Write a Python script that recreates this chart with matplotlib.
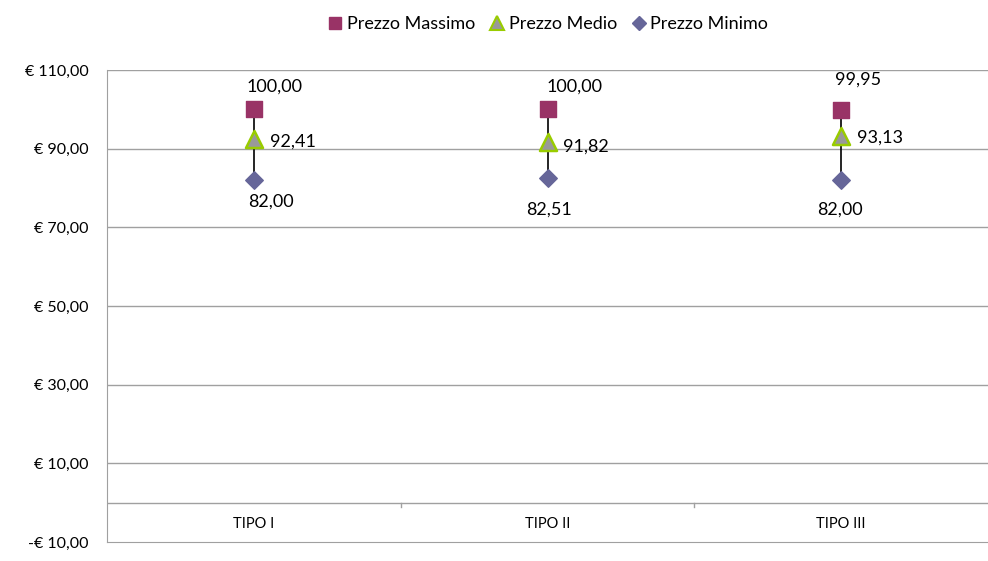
import matplotlib.pyplot as plt
from matplotlib.lines import Line2D

plt.rcParams['font.family'] = ['Lato', 'DejaVu Sans']

categorie = ['TIPO I', 'TIPO II', 'TIPO III']
prezzo_max = [100.00, 100.00, 99.95]
prezzo_medio = [92.41, 91.82, 93.13]
prezzo_min = [82.00, 82.51, 82.00]

# spostamenti etichette (pixel) rispetto al marker
off_max = [(21, 23), (27, 23), (17, 30)]
off_min = [(17, -21), (1, -31), (-1, -29)]
off_med = [(16, -2), (15, -5), (16, -1)]

def euro(v):
    s = f"{abs(v):,.2f}".replace(",", "X").replace(".", ",").replace("X", ".")
    return ("-€ " if v < 0 else "€ ") + s

def num(v):
    return f"{v:.2f}".replace(".", ",")

fig = plt.figure(figsize=(9.88, 5.61), dpi=100)
ax = fig.add_axes([0.1083, 0.0339, 0.8917, 0.8411])

x = list(range(len(categorie)))
col_max = '#993366'
col_med_edge = '#99CC00'
col_med = '#999999'
col_min = '#666699'

ax.set_xlim(-0.5, len(categorie) - 0.5)
ax.set_ylim(-10, 110)
yt = list(range(-10, 111, 20))
ax.set_yticks(yt)
ax.set_yticklabels([euro(v) for v in yt], fontsize=11.5)
for v in yt[1:]:
    ax.axhline(v, color='#a0a0a0', lw=1, zorder=0)
ax.axhline(0, color='#a0a0a0', lw=1, zorder=0)

for s in ['top', 'right']:
    ax.spines[s].set_visible(False)
for s in ['left', 'bottom']:
    ax.spines[s].set_color('#a0a0a0')
ax.tick_params(axis='y', length=0, pad=13)
ax.set_xticks([])

# tacche categorie sull'asse a quota 0
for b in [i + 0.5 for i in x[:-1]]:
    ax.plot([b, b], [0, -1.2], color='#a0a0a0', lw=1, zorder=0)
for i, c in zip(x, categorie):
    ax.text(i, -5.3, c, ha='center', va='center', fontsize=10.5)

# linee max-min
ax.vlines(x, prezzo_min, prezzo_max, color='black', lw=1.2, zorder=2)
ax.scatter(x, prezzo_max, marker='s', s=120, color=col_max, zorder=3)
ax.scatter(x, prezzo_min, marker='D', s=80, color=col_min, zorder=3)
ax.scatter(x, prezzo_medio, marker='^', s=150, color=col_med, edgecolors=col_med_edge, linewidths=1.8, zorder=4)

for i in x:
    ax.annotate(num(prezzo_max[i]), (i, prezzo_max[i]), xytext=off_max[i], textcoords='offset pixels',
                ha='center', va='center', fontsize=13)
    ax.annotate(num(prezzo_min[i]), (i, prezzo_min[i]), xytext=off_min[i], textcoords='offset pixels',
                ha='center', va='center', fontsize=13)
    ax.annotate(num(prezzo_medio[i]), (i, prezzo_medio[i]), xytext=off_med[i], textcoords='offset pixels',
                ha='left', va='center', fontsize=13)

handles = [
    Line2D([], [], ls='', marker='s', ms=9, color=col_max),
    Line2D([], [], ls='', marker='^', ms=10, color=col_med, mec=col_med_edge, mew=1.5),
    Line2D([], [], ls='', marker='D', ms=7, color=col_min),
]
fig.legend(handles, ['Prezzo Massimo', 'Prezzo Medio', 'Prezzo Minimo'], loc='center',
           bbox_to_anchor=(0.554, 0.957), ncol=3, frameon=False, fontsize=13,
           handletextpad=0.15, columnspacing=0.7, handlelength=1.0)

fig.savefig('out.png', dpi=100)
